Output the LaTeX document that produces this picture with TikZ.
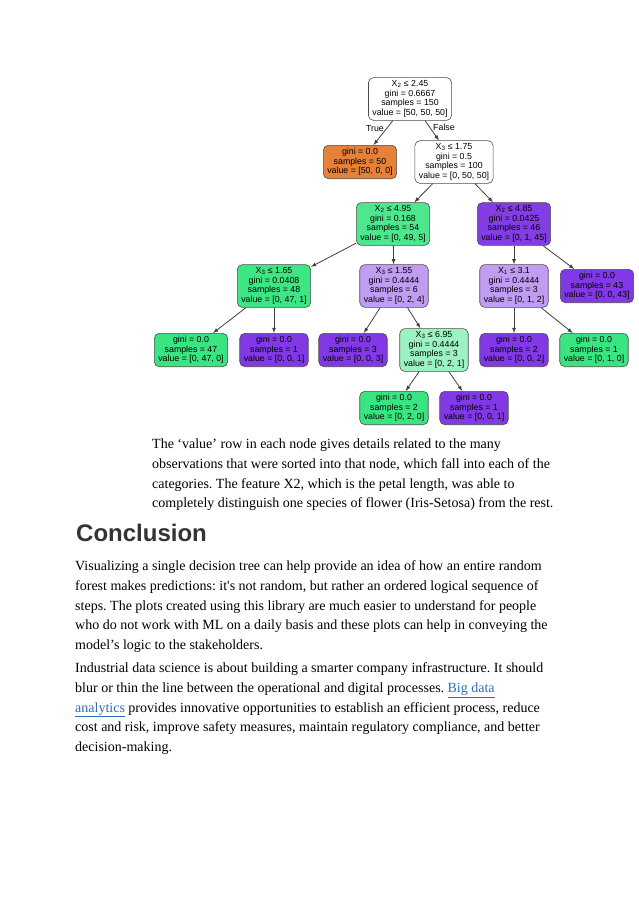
\documentclass[tikz,border=0pt]{standalone}
\usepackage{fontspec}
\setmainfont{Liberation Serif}
\newfontfamily\treefont{Liberation Sans}
\newfontfamily\headfont{Liberation Sans}
\usetikzlibrary{positioning}

\definecolor{orangeleaf}{HTML}{E58139}
\definecolor{greenfull}{HTML}{39E581}
\definecolor{greenA}{HTML}{4DE88E}
\definecolor{greenB}{HTML}{3DE683}
\definecolor{greenlight}{HTML}{9CF2C0}
\definecolor{purplefull}{HTML}{8139E5}
\definecolor{purpleA}{HTML}{843DE5}
\definecolor{purplelight}{HTML}{C09CF2}
\definecolor{headgray}{HTML}{333333}
\definecolor{linkblue}{HTML}{2F6DB5}

\newcommand{\nodefont}{\treefont\fontsize{8.8}{9.6}\selectfont}
\newcommand{\bodyfont}{\fontsize{14}{19.8}\selectfont\frenchspacing}

\tikzset{
  treenode/.style={draw=black!70, rounded corners=5pt, align=center, font=\nodefont,
    inner xsep=4pt, inner ysep=3pt, line width=0.6pt},
  treeedge/.style={->, draw=black!75, line width=0.8pt},
  para/.style={anchor=north west, align=left, inner sep=0pt, font=\bodyfont},
}

\begin{document}
\begin{tikzpicture}[>=latex, x=1pt, y=-1pt]
  \useasboundingbox (0,0) rectangle (638,903);

  % decision tree
  \node[treenode, fill=white] (root) at (410,99) {X\textsubscript{2} ≤ 2.45\\gini = 0.6667\\samples = 150\\value = [50, 50, 50]};
  \node[treenode, fill=orangeleaf] (setosa) at (360,162) {gini = 0.0\\samples = 50\\value = [50, 0, 0]};
  \node[treenode, fill=white] (split175) at (454,162) {X\textsubscript{3} ≤ 1.75\\gini = 0.5\\samples = 100\\value = [0, 50, 50]};

  \node[treenode, fill=greenA] (split495) at (393,224) {X\textsubscript{2} ≤ 4.95\\gini = 0.168\\samples = 54\\value = [0, 49, 5]};
  \node[treenode, fill=purpleA] (split485) at (514,224) {X\textsubscript{2} ≤ 4.85\\gini = 0.0425\\samples = 46\\value = [0, 1, 45]};

  \node[treenode, fill=greenB] (split165) at (274,286) {X\textsubscript{3} ≤ 1.65\\gini = 0.0408\\samples = 48\\value = [0, 47, 1]};
  \node[treenode, fill=purplelight] (split155) at (394,286) {X\textsubscript{3} ≤ 1.55\\gini = 0.4444\\samples = 6\\value = [0, 2, 4]};
  \node[treenode, fill=purplelight] (split31) at (514,286) {X\textsubscript{1} ≤ 3.1\\gini = 0.4444\\samples = 3\\value = [0, 1, 2]};
  \node[treenode, fill=purplefull] (leaf43) at (597,286) {gini = 0.0\\samples = 43\\value = [0, 0, 43]};

  \node[treenode, fill=greenfull] (leaf47) at (191,350) {gini = 0.0\\samples = 47\\value = [0, 47, 0]};
  \node[treenode, fill=purplefull] (leafpa) at (274,350) {gini = 0.0\\samples = 1\\value = [0, 0, 1]};
  \node[treenode, fill=purplefull] (leafpb) at (353,350) {gini = 0.0\\samples = 3\\value = [0, 0, 3]};
  \node[treenode, fill=greenlight] (split695) at (434,350) {X\textsubscript{3} ≤ 6.95\\gini = 0.4444\\samples = 3\\value = [0, 2, 1]};
  \node[treenode, fill=purplefull] (leafpc) at (514,350) {gini = 0.0\\samples = 2\\value = [0, 0, 2]};
  \node[treenode, fill=greenfull] (leafga) at (594,350) {gini = 0.0\\samples = 1\\value = [0, 1, 0]};

  \node[treenode, fill=greenfull] (leafgb) at (394,408) {gini = 0.0\\samples = 2\\value = [0, 2, 0]};
  \node[treenode, fill=purplefull] (leafpd) at (474,408) {gini = 0.0\\samples = 1\\value = [0, 0, 1]};

  \draw[treeedge] (root) -- (setosa);
  \draw[treeedge] (root) -- (split175);
  \draw[treeedge] (split175) -- (split495);
  \draw[treeedge] (split175) -- (split485);
  \draw[treeedge] (split495) -- (split165);
  \draw[treeedge] (split495) -- (split155);
  \draw[treeedge] (split485) -- (split31);
  \draw[treeedge] (split485) -- (leaf43);
  \draw[treeedge] (split165) -- (leaf47);
  \draw[treeedge] (split165) -- (leafpa);
  \draw[treeedge] (split155) -- (leafpb);
  \draw[treeedge] (split155) -- (split695);
  \draw[treeedge] (split31) -- (leafpc);
  \draw[treeedge] (split31) -- (leafga);
  \draw[treeedge] (split695) -- (leafgb);
  \draw[treeedge] (split695) -- (leafpd);

  \node[font=\nodefont] (truelabel) at (375,129) {True};
  \node[font=\nodefont] (falselabel) at (444,127) {False};

  % caption and text
  \node[para] (caption) at (152,438.5) {The ‘value’ row in each node gives details related to the many\\
    observations that were sorted into that node, which fall into each of the\\
    categories. The feature X2, which is the petal length, was able to\\
    completely distinguish one species of flower (Iris-Setosa) from the rest.};

  \node[anchor=base west, inner sep=0pt, text=headgray,
    font=\headfont\bfseries\fontsize{24}{28}\selectfont] (heading) at (76,541) {Conclusion};

  \node[para] (parafirst) at (75,560.5) {Visualizing a single decision tree can help provide an idea of how an entire random\\
    forest makes predictions: it\textquotesingle s not random, but rather an ordered logical sequence of\\
    steps. The plots created using this library are much easier to understand for people\\
    who do not work with ML on a daily basis and these plots can help in conveying the\\
    model’s logic to the stakeholders.};

  \node[para] (parasecond) at (75,662.5) {Industrial data science is about building a smarter company infrastructure. It should\\
    blur or thin the line between the operational and digital processes. {\color{linkblue}\underline{Big data}}\\
    {\color{linkblue}\underline{analytics}} provides innovative opportunities to establish an efficient process, reduce\\
    cost and risk, improve safety measures, maintain regulatory compliance, and better\\
    decision-making.};
\end{tikzpicture}
\end{document}
